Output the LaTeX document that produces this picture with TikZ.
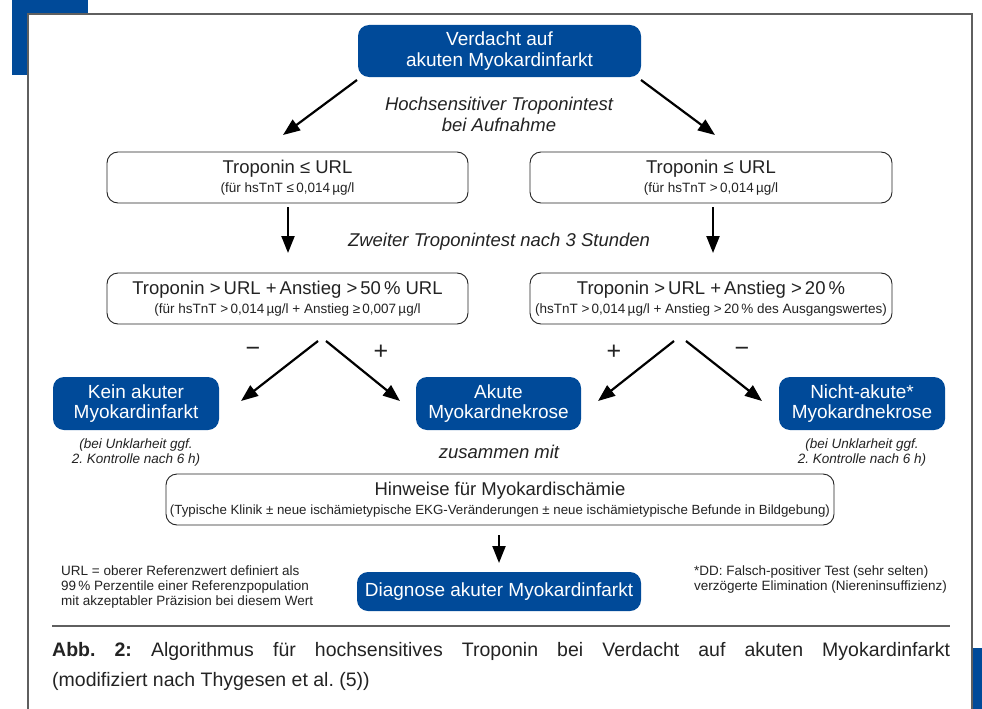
\documentclass[tikz,border=0pt]{standalone}
\usepackage{fontspec}
\setmainfont{Liberation Sans}
\usetikzlibrary{arrows.meta}
\definecolor{dblue}{RGB}{0,74,153}
\definecolor{tgray}{RGB}{35,35,35}
\definecolor{fgray}{RGB}{95,95,95}
\frenchspacing
\begin{document}
\begin{tikzpicture}[x=1pt,y=-1pt,
  wbox/.style={draw=tgray, line width=0.9pt, rounded corners=11pt, inner sep=0pt, align=center, text=tgray, font=\fontsize{18.5}{19.5}\selectfont},
  bbox/.style={fill=dblue, rounded corners=11pt, inner sep=0pt, align=center, text=white, font=\fontsize{19}{20.5}\selectfont},
  itl/.style={inner sep=0pt, align=center, text=tgray, font=\fontsize{18.5}{21}\selectfont\itshape},
  itsm/.style={inner sep=0pt, align=center, text=tgray, font=\fontsize{13.5}{15}\selectfont\itshape},
  note/.style={inner sep=0pt, align=left, text=tgray, font=\fontsize{13.5}{15}\selectfont},
  sign/.style={inner sep=0pt, text=tgray, font=\fontsize{25}{26}\selectfont},
  arr/.style={draw=black, line width=2.2pt, -{Triangle[length=17pt,width=13pt]}}
]
\frenchspacing
\useasboundingbox (0,0) rectangle (982,709);
% frame decorations
\fill[dblue] (12,0) rectangle (88,75);
\fill[dblue] (973,648) rectangle (982,709);
\fill[white] (28,14) rectangle (972,720);
\draw[fgray, line width=2pt] (28,720) -- (28,14) -- (972,14) -- (972,720);

% nodes
\node[bbox, minimum width=283pt, minimum height=52pt] (top) at (499.5,51) {Verdacht auf\\akuten Myokardinfarkt};
\node[itl] (lab1) at (499,114) {Hochsensitiver Troponintest\\bei Aufnahme};

\node[wbox, minimum width=361pt, minimum height=51pt] (l1) at (287.5,177.5)
  {Troponin ≤ URL\\{\fontsize{13.5}{16}\selectfont (für hsTnT ≤\,0,014\,µg/l}};
\node[wbox, minimum width=362pt, minimum height=51pt] (r1) at (711,177.5)
  {Troponin ≤ URL\\{\fontsize{13.5}{16}\selectfont (für hsTnT >\,0,014\,µg/l}};

\node[itl] (lab2) at (499,242) {Zweiter Troponintest nach 3 Stunden};

\node[wbox, minimum width=361pt, minimum height=51pt] (l2) at (287.5,298.5)
  {Troponin >\,URL +\,Anstieg >\,50\,\% URL\\{\fontsize{13.5}{16}\selectfont (für hsTnT >\,0,014\,µg/l + Anstieg ≥\,0,007\,µg/l}};
\node[wbox, minimum width=362pt, minimum height=51pt] (r2) at (711,298.5)
  {Troponin >\,URL +\,Anstieg >\,20\,\%\\{\fontsize{13.5}{16}\selectfont (hsTnT >\,0,014\,µg/l + Anstieg >\,20\,\% des Ausgangswertes)}};

\node[sign] (m1) at (253,352) {−};
\node[sign] (p1) at (381,352) {+};
\node[sign] (p2) at (614,352) {+};
\node[sign] (m2) at (742,352) {−};

\node[bbox, minimum width=166pt, minimum height=53pt] (kein) at (136,403.5) {Kein akuter\\Myokardinfarkt};
\node[bbox, minimum width=165pt, minimum height=53pt] (akut) at (498.5,403.5) {Akute\\Myokardnekrose};
\node[bbox, minimum width=166pt, minimum height=53pt] (nicht) at (862,403.5) {Nicht-akute*\\Myokardnekrose};

\node[itsm] (u1) at (136,452.5) {(bei Unklarheit ggf.\\2. Kontrolle nach 6 h)};
\node[itsm] (u2) at (862,452.5) {(bei Unklarheit ggf.\\2. Kontrolle nach 6 h)};
\node[itl] (zus) at (499,452) {zusammen mit};

\node[wbox, minimum width=668pt, minimum height=51pt] (hin) at (500,499.5)
  {Hinweise für Myokardischämie\\{\fontsize{13.3}{16}\selectfont (Typische Klinik ± neue ischämietypische EKG-Veränderungen ± neue ischämietypische Befunde in Bildgebung)}};

\node[bbox, minimum width=284pt, minimum height=39pt] (diag) at (499,591.5) {Diagnose akuter Myokardinfarkt};

\node[note, anchor=north west] (fn1) at (61,566) {URL = oberer Referenzwert definiert als\\99\,\% Perzentile einer Referenzpopulation\\mit akzeptabler Präzision bei diesem Wert};
\node[note, anchor=north west] (fn2) at (694,566) {*DD: Falsch-positiver Test (sehr selten)\\verzögerte Elimination (Niereninsuffizienz)};

% arrows
\coordinate (a1s) at (357,80);  \coordinate (a1e) at (283,135);
\coordinate (a2s) at (641,80);  \coordinate (a2e) at (715,135);
\coordinate (a3s) at (288,207); \coordinate (a3e) at (288,253);
\coordinate (a4s) at (713,207); \coordinate (a4e) at (713,253);
\coordinate (a5s) at (318,341); \coordinate (a5e) at (241,401);
\coordinate (a6s) at (326,341); \coordinate (a6e) at (400,401);
\coordinate (a7s) at (674,341); \coordinate (a7e) at (598,401);
\coordinate (a8s) at (686,341); \coordinate (a8e) at (762,401);
\coordinate (a9s) at (499,535); \coordinate (a9e) at (499,563);
\draw[arr] (a1s) -- (a1e);
\draw[arr] (a2s) -- (a2e);
\draw[arr] (a3s) -- (a3e);
\draw[arr] (a4s) -- (a4e);
\draw[arr] (a5s) -- (a5e);
\draw[arr] (a6s) -- (a6e);
\draw[arr] (a7s) -- (a7e);
\draw[arr] (a8s) -- (a8e);
\draw[arr] (a9s) -- (a9e);

% caption
\draw[fgray, line width=1.4pt] (52,626) -- (950,626);
\node[inner sep=0pt, anchor=north west, text=tgray, font=\fontsize{19.5}{30}\selectfont] (cap) at (52,642)
  {\parbox{898pt}{\frenchspacing\textbf{Abb.~2:} Algorithmus für hochsensitives Troponin bei Verdacht auf akuten Myokardinfarkt\linebreak (modifiziert nach Thygesen et al. (5))}};
\end{tikzpicture}
\end{document}
